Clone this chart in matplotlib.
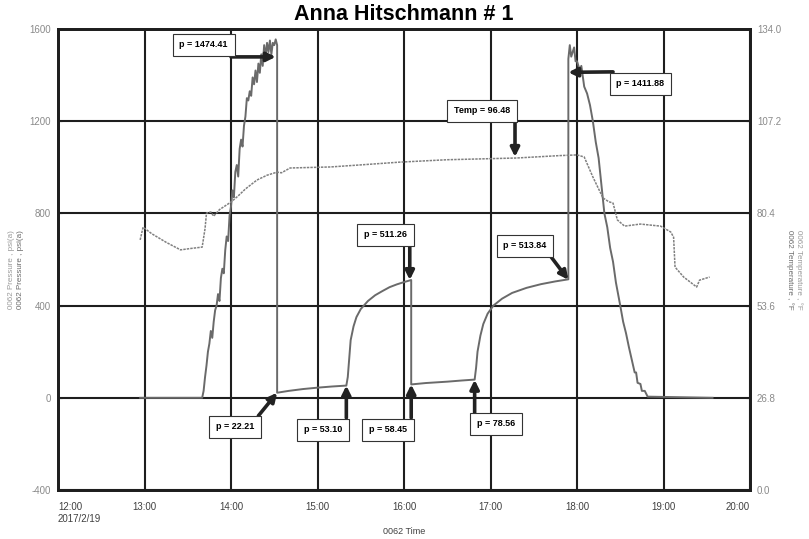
import pandas as pd
import matplotlib
matplotlib.use('Agg')
from matplotlib import pyplot as plt

plt.rcParams['font.family'] = ['Liberation Sans Narrow', 'Liberation Sans', 'DejaVu Sans']

DAY = '2017-02-19 '

# pressure trace, psi(a)
p_times = ['12:57', '13:40', '13:41', '13:42', '13:43', '13:44', '13:45', '13:46', '13:47', '13:48',
           '13:49', '13:50', '13:51', '13:52', '13:53', '13:54', '13:55', '13:56', '13:57', '13:58',
           '13:59', '14:00', '14:01', '14:02', '14:03', '14:04', '14:05', '14:06', '14:07', '14:08',
           '14:09', '14:10', '14:11', '14:12', '14:13', '14:14', '14:15', '14:16', '14:17', '14:18',
           '14:19', '14:20', '14:21', '14:22', '14:23', '14:24', '14:25', '14:26', '14:27', '14:28',
           '14:29', '14:30', '14:31', '14:32', '14:32',
           '14:40', '14:50', '15:00', '15:10', '15:20', '15:21', '15:22', '15:23', '15:25', '15:27',
           '15:30', '15:35', '15:40', '15:45', '15:50', '15:55', '16:00', '16:05', '16:05',
           '16:15', '16:30', '16:40', '16:49', '16:50', '16:51', '16:53', '16:55', '16:58', '17:02',
           '17:08', '17:15', '17:25', '17:35', '17:45', '17:54', '17:54', '17:55', '17:56', '17:58',
           '17:59', '18:00', '18:02', '18:03', '18:05', '18:07', '18:09', '18:11', '18:13', '18:15',
           '18:17', '18:19', '18:21', '18:23', '18:25', '18:27', '18:30', '18:32', '18:34', '18:36',
           '18:38', '18:40', '18:41', '18:42', '18:44', '18:45', '18:47', '18:49', '19:34']
p_values = [0, 0, 30, 90, 140, 200, 235, 290, 260, 330,
            380, 400, 450, 420, 520, 560, 540, 640, 700, 680,
            790, 830, 900, 870, 980, 1010, 960, 1080, 1120, 1090,
            1180, 1220, 1300, 1290, 1330, 1310, 1390, 1360, 1420, 1370,
            1450, 1410, 1490, 1440, 1530, 1480, 1540, 1500, 1550, 1490,
            1540, 1530, 1555, 1530, 22,
            30, 38, 44, 49, 53, 90, 170, 250, 310, 350,
            385, 420, 445, 463, 480, 492, 502, 511, 58,
            64, 70, 75, 79, 130, 200, 270, 320, 365, 400,
            430, 455, 477, 493, 505, 514, 1470, 1530, 1480, 1520,
            1460, 1460, 1420, 1440, 1350, 1320, 1270, 1200, 1110, 1040,
            920, 800, 740, 650, 590, 500, 400, 330, 280, 220,
            165, 110, 110, 65, 60, 30, 30, 5, 0]

# temperature trace, deg F
t_times = ['12:57', '12:59', '13:05', '13:15', '13:25', '13:32', '13:40', '13:42', '13:43', '13:46',
           '13:48', '13:52', '14:00', '14:05', '14:10', '14:18', '14:25', '14:32', '14:35', '14:41',
           '15:09', '15:30', '15:57', '16:30', '17:18', '17:48', '18:00', '18:05', '18:11', '18:18',
           '18:22', '18:25', '18:28', '18:33', '18:44', '18:58', '19:05', '19:07', '19:08', '19:14',
           '19:23', '19:25', '19:32']
t_values = [72.7, 76.4, 74.5, 72.0, 69.8, 70.2, 70.6, 76.0, 80.5, 80.8,
            79.6, 81.5, 83.7, 85.5, 87.5, 90.1, 91.5, 92.4, 92.2, 93.6,
            93.9, 94.5, 95.3, 96.0, 96.5, 97.2, 97.4, 96.8, 91.0, 84.9,
            83.8, 83.4, 78.5, 76.7, 77.3, 76.7, 75.0, 73.5, 64.8, 61.9,
            59.0, 61.0, 61.9]

# annotations: label, box centre (time, psi), arrow tail (time, psi), arrow tip (time, psi)
notes = [
    ('p = 1474.41', ('13:41', 1531), ('14:00', 1479), ('14:31', 1479)),
    ('p = 1411.88', ('18:44', 1362), ('18:25', 1414), ('17:54', 1412)),
    ('Temp = 96.48', ('16:54', 1245), ('17:17', 1193), ('17:17', 1045)),
    ('p = 511.26', ('15:47', 707), ('16:04', 655), ('16:04', 511)),
    ('p = 513.84', ('17:24', 659), ('17:41', 620), ('17:54', 512)),
    ('p = 22.21', ('14:03', -126), ('14:19', -78), ('14:32', 22)),
    ('p = 53.10', ('15:04', -139), ('15:20', -87), ('15:20', 53)),
    ('p = 58.45', ('15:49', -139), ('16:05', -87), ('16:05', 58)),
    ('p = 78.56', ('17:04', -113), ('16:49', -65), ('16:49', 78)),
]

hour_ticks = ['12:00', '13:00', '14:00', '15:00', '16:00', '17:00', '18:00', '19:00', '20:00']
p_ticks = [-400, 0, 400, 800, 1200, 1600]
t_ticks = [0.0, 26.8, 53.6, 80.4, 107.2, 134.0]


def to_dt(hhmm):
    return pd.Timestamp(DAY + hhmm)


fig = plt.figure(figsize=(8.09, 5.39), dpi=100)
ax = fig.add_axes([58 / 809, 49 / 539, 692 / 809, 461 / 539])
ax2 = ax.twinx()

ax.plot([to_dt(t) for t in p_times], p_values, color='#6a6a6a', lw=1.4, zorder=3)
ax2.plot([to_dt(t) for t in t_times], t_values, color='#808080', lw=1.1,
         linestyle=(0, (1.6, 0.7)), zorder=3)

ax.set_xlim(to_dt('12:00'), to_dt('20:00'))
ax.set_ylim(-400, 1600)
ax2.set_ylim(0, 134)

ax.set_xticks([to_dt(h) for h in hour_ticks])
labels = [h for h in hour_ticks]
labels[0] = '12:00\n2017/2/19'
ax.set_xticklabels(labels, fontsize=7, color='#404040')
xl = ax.get_xticklabels()
xl[0].set_ha('left')
xl[0].set_multialignment('left')
xl[-1].set_ha('right')
ax.tick_params(axis='x', length=0, pad=9)

ax.set_yticks(p_ticks)
ax.set_yticklabels([str(v) for v in p_ticks], fontsize=7, color='#8a8a8a')
ax.tick_params(axis='y', direction='in', length=3, pad=5, color='#222222')
ax2.set_yticks(t_ticks)
ax2.set_yticklabels(['%.1f' % v for v in t_ticks], fontsize=7, color='#8a8a8a')
ax2.tick_params(axis='y', direction='in', length=3, pad=5, color='#222222')

ax.grid(True, color='#1e1e1e', lw=1.5)
ax.set_axisbelow(True)
for a in (ax, ax2):
    for s in a.spines.values():
        s.set_linewidth(2)
        s.set_color('#1e1e1e')

for label, box, tail, tip in notes:
    ax.annotate('', xy=(to_dt(tip[0]), tip[1]), xytext=(to_dt(tail[0]), tail[1]),
                arrowprops=dict(arrowstyle='-|>', lw=2.6, color='#222222',
                                mutation_scale=13, shrinkA=0, shrinkB=0),
                zorder=5)
    ax.text(to_dt(box[0]), box[1], label, fontsize=6.5, fontweight='bold',
            ha='center', va='center', zorder=6,
            bbox=dict(boxstyle='square,pad=0.75', fc='white', ec='#333333', lw=0.8))

fig.text(404 / 809, 1 - 15 / 539, 'Anna Hitschmann # 1', fontsize=15.5, fontweight='bold',
         ha='center', va='center')
fig.text(404 / 809, 1 - 531 / 539, '0062 Time', fontsize=6.5, color='#404040',
         ha='center', va='center')
fig.text(12 / 809, 0.5, '0062 Pressure , psi(a)', fontsize=5.8,
         color='#9a9a9a', rotation=90, ha='center', va='center')
fig.text(21 / 809, 0.5, '0062 Pressure , psi(a)', fontsize=5.8, color='#6a6a6a',
         rotation=90, ha='center', va='center')
fig.text(790 / 809, 0.5, '0062 Temperature , °F', fontsize=5.8, color='#6a6a6a',
         rotation=270, ha='center', va='center')
fig.text(799 / 809, 0.5, '0062 Temperature , °F', fontsize=5.8, color='#9a9a9a',
         rotation=270, ha='center', va='center')

fig.savefig('out.png', dpi=100)
